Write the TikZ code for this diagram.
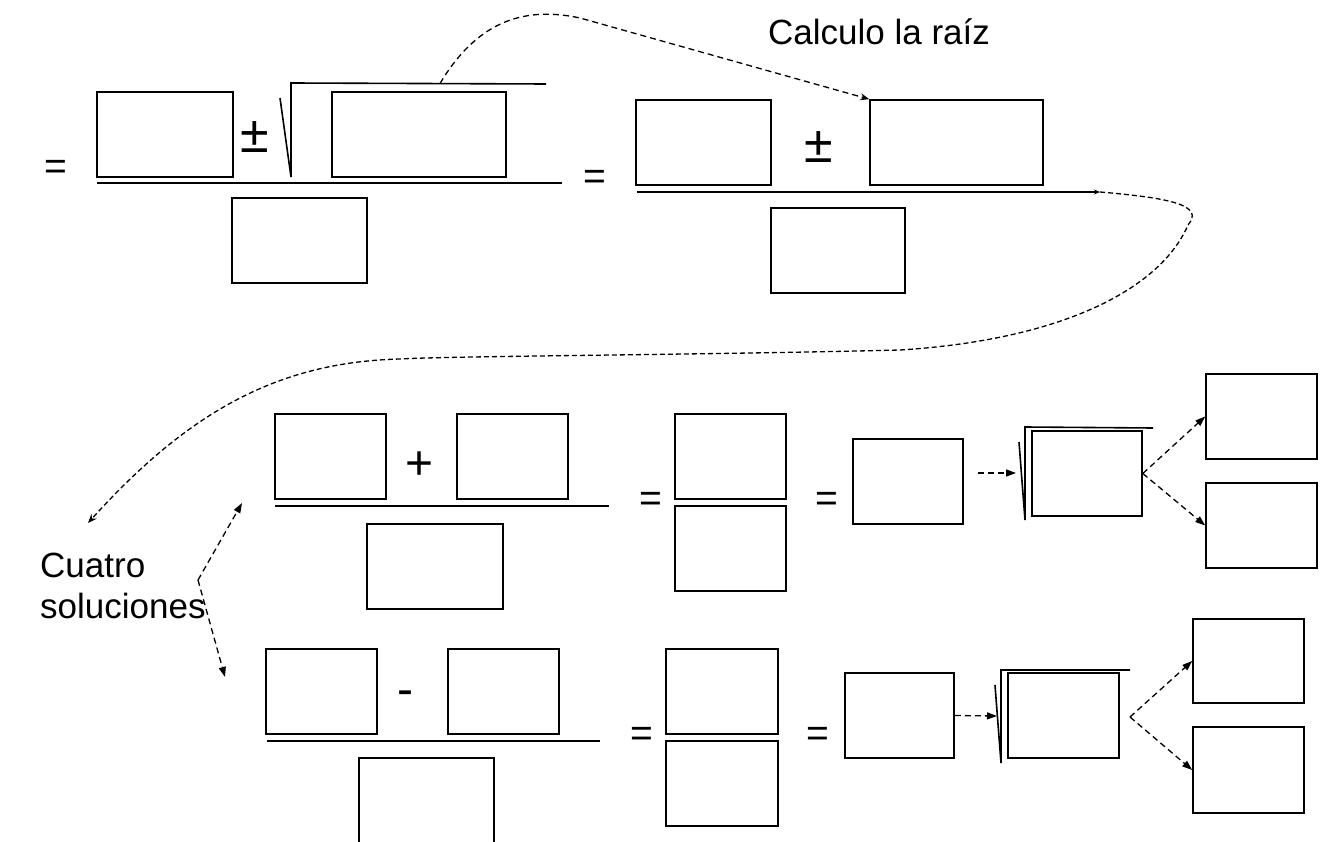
\documentclass[tikz,border=0pt]{standalone}
\usepackage{fontspec}
\setmainfont{Liberation Sans}
\usetikzlibrary{arrows.meta}
\begin{document}
\begin{tikzpicture}[x=1pt,y=-1pt,
  slot/.style={draw, line width=1.6pt, inner sep=0pt, minimum width=#1, minimum height=85pt},
  slot/.default=111pt,
  bar/.style={line width=1.6pt},
  rootsign/.style={line width=1.6pt, line join=miter},
  link/.style={line width=1.3pt, dash pattern=on 6pt off 4pt},
  op/.style={inner sep=0pt, anchor=base, font=\fontsize{48}{48}\selectfont},
  pm/.style={inner sep=0pt, anchor=base, font=\fontsize{52}{52}\selectfont},
  eq/.style={inner sep=0pt, anchor=base, font=\fontsize{39}{39}\selectfont},
  note/.style={inner sep=0pt, anchor=base west, align=left, font=\fontsize{35}{41}\selectfont},
  tipopen/.style={-{Stealth[length=9pt,width=7pt]}},
  tipfill/.style={-{Triangle[length=10pt,width=7pt]}},
]
\useasboundingbox (0,0) rectangle (1320,842);
\clip (0,0) rectangle (1320,842);

% ---------- first line: (b ± sqrt(disc)) / 2a ----------
\node[eq] (eqA) at (56,180) {=};
\node[slot=136pt] (a1) at (165,134.5) {};
\node[pm] (pmA) at (255,153) {±};
\node[slot=174pt] (a2) at (419,134.5) {};
\node[slot=135pt] (a3) at (299.5,240.5) {};
\draw[bar] (97,183) -- (562,183);
\draw[rootsign] (280,98) -- (291,177) -- (291,83) -- (546,84);
\coordinate (rootA) at (440,83.5);

% ---------- second line: root already computed ----------
\node[eq] (eqB) at (595,190) {=};
\node[slot=135pt] (b1) at (703.5,142.5) {};
\node[pm] (pmB) at (819,163) {±};
\node[slot=173pt] (b2) at (956.5,142.5) {};
\node[slot=134pt] (b3) at (838,250.5) {};
\draw[bar, -{Stealth[length=6pt,width=5pt]}] (637,192) -- (1100,192) coordinate (fracB);

\node[note] (calc) at (768,45) {Calculo la raíz};
\draw[link, tipopen] (rootA) .. controls (475,25) and (520,5) .. (580,18) -- (b2.north west);

% ---------- label for the four roots ----------
\node[note] (four) at (40,618) {Cuatro\\soluciones};
\coordinate (fourIn) at (88,523);
\coordinate (fourOut) at (198,580);
\draw[link, dash pattern=on 5pt off 3pt, tipopen]
  (fracB) .. controls (1170,198) and (1205,205) .. (1188,225)
  .. controls (1160,290) and (1060,340) .. (900,350)
  .. controls (700,355) and (450,356) .. (400,359)
  .. controls (280,362) and (190,410) .. (fourIn);

% ---------- plus branch ----------
\node[slot] (c1) at (330.5,456.5) {};
\node[op] (plus) at (420,479) {+};
\node[slot] (c2) at (512.5,456.5) {};
\node[slot=136pt] (c3) at (435,566.5) {};
\draw[bar] (275,506) -- (609,506);
\node[eq] (eqC1) at (651,511) {=};
\node[slot] (c4) at (730.5,456.5) {};
\node[slot] (c5) at (730.5,548.5) {};
\node[eq] (eqC2) at (827,511) {=};
\node[slot=110pt] (c6) at (908,481.5) {};
\draw[rootsign] (1019,442) -- (1025,520) -- (1025,427) -- (1153,428);
\coordinate (rootC) at (1016,473);
\node[slot=110pt] (c7) at (1087,473.5) {};
\node[slot] (c8) at (1261.5,416.5) {};
\node[slot] (c9) at (1261.5,525.5) {};
\draw[link, tipfill] (978,473) -- (rootC);
\draw[link, tipfill] (c7.east) -- (c8.west);
\draw[link, tipfill] (c7.east) -- (c9.west);

% ---------- minus branch ----------
\node[slot] (d1) at (321.5,691.5) {};
\node[op] (minus) at (405,705) {-};
\node[slot] (d2) at (503.5,691.5) {};
\node[slot=135pt] (d3) at (426.5,800.5) {};
\draw[bar] (267,741) -- (600,741);
\node[eq] (eqD1) at (642,746) {=};
\node[slot=112pt] (d4) at (722,691.5) {};
\node[slot=112pt] (d5) at (722,783.5) {};
\node[eq] (eqD2) at (818,746) {=};
\node[slot=109pt] (d6) at (899.5,715.5) {};
\draw[rootsign] (995,685) -- (1001,763) -- (1001,670) -- (1130,670);
\coordinate (rootD) at (997,716);
\coordinate (forkD) at (1130,717);
\node[slot] (d7) at (1063.5,715.5) {};
\node[slot=111pt, minimum height=84pt] (d8) at (1248.5,661) {};
\node[slot=111pt, minimum height=86pt] (d9) at (1248.5,770) {};
\draw[link, tipfill] (d6.east) -- (rootD);
\draw[link, tipfill] (forkD) -- (d8.west);
\draw[link, tipfill] (forkD) -- (d9.west);

% ---------- arrows from the label to both branches ----------
\draw[link, tipfill] (fourOut) -- (242,503);
\draw[link, tipfill] (fourOut) -- (225,677);
\end{tikzpicture}
\end{document}
